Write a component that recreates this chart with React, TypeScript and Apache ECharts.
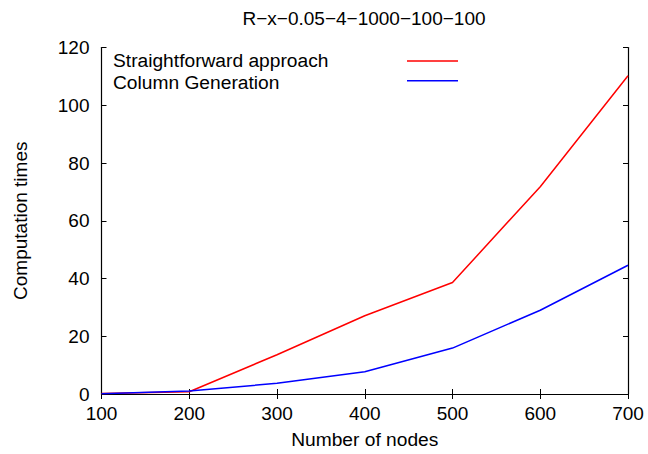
import React, { useEffect, useRef } from "react";
import * as echarts from "echarts";

const nodes = [100, 200, 300, 400, 500, 600, 700];
const straightforward = [0.2, 0.8, 13.6, 27.1, 38.6, 71.8, 110.2];
const columnGeneration = [0.1, 1.0, 3.7, 7.7, 15.9, 29.0, 44.6];
const seriesNames = ["Straightforward approach", "Column Generation"];
const seriesColors = ["#ff0000", "#0000ff"];
const titleText = "R\u2212x\u22120.05\u22124\u22121000\u2212100\u2212100";

const FONT = "Liberation Sans, Arial, Helvetica, sans-serif";

export default function App() {
  const ref = useRef<HTMLDivElement>(null);
  useEffect(() => {
    if (!ref.current) return;
    const chart = echarts.init(ref.current, undefined, { renderer: "svg" });
    const tickCommon = { show: true, inside: true, length: 5, lineStyle: { color: "#000", width: 1 } };
    const lineCommon = { show: true, lineStyle: { color: "#000", width: 1.2 } };
    const gridLeft = 101.5;
    const gridTop = 47.5;
    const gridRight = 628;
    const legendLineY = [61, 80.7];
    const legendTextY = [60, 82];
    chart.setOption({
      animation: false,
      backgroundColor: "#fff",
      textStyle: { fontFamily: FONT },
      grid: { left: gridLeft, top: gridTop, right: 648 - gridRight, bottom: 454 - 395.5, containLabel: false },
      xAxis: [
        {
          type: "value",
          min: 100,
          max: 700,
          interval: 100,
          position: "bottom",
          axisLine: lineCommon,
          axisTick: tickCommon,
          splitLine: { show: false },
          axisLabel: { color: "#000", fontSize: 19, margin: 10, fontFamily: FONT },
          name: "Number of nodes",
          nameLocation: "middle",
          nameGap: 36,
          nameTextStyle: { color: "#000", fontSize: 19.2, fontFamily: FONT },
        },
        {
          type: "value",
          min: 100,
          max: 700,
          interval: 100,
          position: "top",
          axisLine: lineCommon,
          axisTick: tickCommon,
          splitLine: { show: false },
          axisLabel: { show: false },
        },
      ],
      yAxis: [
        {
          type: "value",
          min: 0,
          max: 120,
          interval: 20,
          position: "left",
          axisLine: lineCommon,
          axisTick: tickCommon,
          splitLine: { show: false },
          axisLabel: { color: "#000", fontSize: 19, margin: 12, fontFamily: FONT },
          name: "Computation times",
          nameLocation: "middle",
          nameGap: 72,
          nameTextStyle: { color: "#000", fontSize: 19, fontFamily: FONT },
        },
        {
          type: "value",
          min: 0,
          max: 120,
          interval: 20,
          position: "right",
          axisLine: lineCommon,
          axisTick: tickCommon,
          splitLine: { show: false },
          axisLabel: { show: false },
        },
      ],
      series: [
        {
          name: seriesNames[0],
          type: "line",
          data: nodes.map((x, i) => [x, straightforward[i]]),
          showSymbol: false,
          symbol: "none",
          lineStyle: { color: seriesColors[0], width: 1.5 },
          itemStyle: { color: seriesColors[0] },
        },
        {
          name: seriesNames[1],
          type: "line",
          data: nodes.map((x, i) => [x, columnGeneration[i]]),
          showSymbol: false,
          symbol: "none",
          lineStyle: { color: seriesColors[1], width: 1.5 },
          itemStyle: { color: seriesColors[1] },
        },
      ],
      graphic: [
        {
          type: "text",
          x: 364,
          y: 18.5,
          style: { text: titleText, fill: "#000", font: `19px ${FONT}`, align: "center", verticalAlign: "middle" },
        },
        ...seriesNames.flatMap((name, i) => [
          {
            type: "text",
            x: 113,
            y: legendTextY[i],
            style: {
              text: name,
              fill: "#000",
              font: `19.2px ${FONT}`,
              align: "left",
              verticalAlign: "middle",
            },
          },
          {
            type: "line",
            shape: { x1: 407, y1: legendLineY[i], x2: 458, y2: legendLineY[i] },
            style: { stroke: seriesColors[i], lineWidth: 1.5 },
          },
        ]),
      ],
    });
    return () => chart.dispose();
  }, []);
  return <div ref={ref} style={{ position: "fixed", left: 0, top: 0, width: 648, height: 454 }} />;
}
